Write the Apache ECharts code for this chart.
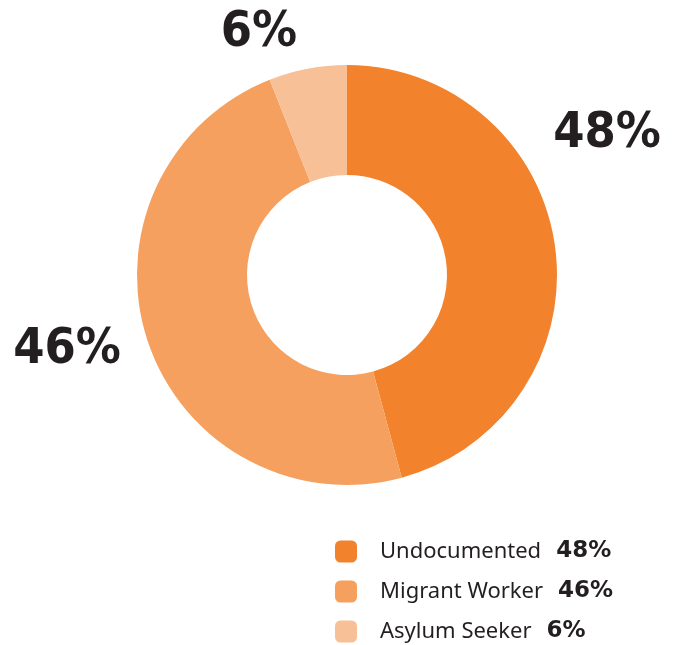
<!DOCTYPE html>
<html>
<head>
<meta charset="utf-8">
<script src="https://cdn.jsdelivr.net/npm/echarts@6/dist/echarts.min.js"></script>
<style>
  html, body { margin: 0; padding: 0; background: #fff; }
  #main { width: 678px; height: 645px; }
</style>
</head>
<body>
<div id="main"></div>
<script>
var categories = ['Undocumented', 'Migrant Worker', 'Asylum Seeker'];
// percentages as printed on the chart
var values = [48, 46, 6];
// arc shares as actually drawn in the picture (the two big slices are not drawn to their printed size)
var sliceShares = [45.8, 48.2, 6];
var colors = ['#f2822c', '#f5a05e', '#f8c096'];
// where each big percentage sits
var labelSpots = [[607, 134], [67, 350], [259, 33]];

var chartDom = document.getElementById('main');
var myChart = echarts.init(chartDom);
var option;

option = {
    animation: false,
    color: colors,
    legend: {
        orient: 'vertical',
        left: 335,
        top: 540,
        padding: 0,
        itemWidth: 22,
        itemHeight: 22,
        itemGap: 17,
        icon: 'roundRect',
        data: categories,
        formatter: function (name) {
            var i = categories.indexOf(name);
            return '{n|' + name + '}{v|' + values[i] + '%}';
        },
        textStyle: {
            padding: [0, 0, 0, 18],
            lineHeight: 22,
            rich: {
                n: {
                    fontFamily: 'Noto Sans',
                    fontSize: 22,
                    lineHeight: 22,
                    color: '#231f20'
                },
                v: {
                    fontFamily: 'DejaVu Sans',
                    fontWeight: 'bold',
                    fontSize: 23,
                    lineHeight: 22,
                    color: '#231f20',
                    padding: [0, 0, 0, 15]
                }
            }
        }
    },
    series: [
        {
            type: 'pie',
            center: [347, 275],
            radius: [100, 210],
            startAngle: 90,
            clockwise: true,
            silent: true,
            label: {
                show: true,
                position: 'outside',
                formatter: function (p) {
                    return values[p.dataIndex] + '%';
                },
                fontFamily: 'DejaVu Sans Condensed',
                fontWeight: 'bold',
                fontSize: 50,
                color: '#231f20',
                overflow: 'none',
                width: 160
            },
            labelLine: { show: false },
            labelLayout: function (params) {
                var p = labelSpots[params.dataIndex];
                return { x: p[0], y: p[1], align: 'center', verticalAlign: 'middle' };
            },
            data: categories.map(function (c, i) {
                return { name: c, value: sliceShares[i] };
            })
        }
    ]
};

option && myChart.setOption(option);
</script>
</body>
</html>
